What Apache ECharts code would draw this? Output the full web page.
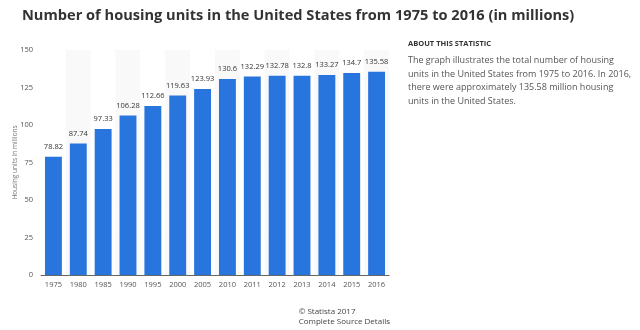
<!DOCTYPE html>
<html><head><meta charset="utf-8">
<script src="https://cdn.jsdelivr.net/npm/echarts@6/dist/echarts.min.js"></script>
<style>html,body{margin:0;padding:0;background:#fff}#c{width:640px;height:330px}</style>
</head><body><div id="c"></div>
<script>
const categories = ['1975','1980','1985','1990','1995','2000','2005','2010','2011','2012','2013','2014','2015','2016'];
const values = [78.82,87.74,97.33,106.28,112.66,119.63,123.93,130.6,132.29,132.78,132.8,133.27,134.7,135.58];
const yTicks = { min: 0, max: 150, interval: 25 };
const titleText = 'Number of housing units in the United States from 1975 to 2016 (in millions)';
const yAxisName = 'Housing units in millions';
const aboutHead = 'ABOUT THIS STATISTIC';
const aboutLines = ['The graph illustrates the total number of housing','units in the United States from 1975 to 2016. In 2016,','there were approximately 135.58 million housing','units in the United States.'];
const footer = ['© Statista 2017','Complete Source Details'];

const chart = echarts.init(document.getElementById('c'), null, {renderer:'canvas'});
const font = '"Open Sans", "Noto Sans", sans-serif';
chart.setOption({
  animation:false,
  backgroundColor:'#fff',
  title:{ text:titleText, left:22, top:8, padding:0, textStyle:{fontFamily:font,fontSize:14.6,fontWeight:'bold',color:'#333'} },
  grid:{ left:41, right:251, top:50, bottom:55, containLabel:false, outerBoundsMode:'none' },
  xAxis:{ type:'category', data:categories,
    axisLine:{lineStyle:{color:'#666',width:1}}, axisTick:{show:false},
    axisLabel:{fontFamily:font,fontSize:7.5,color:'#555',margin:6},
    splitArea:{show:true, areaStyle:{color:['rgba(255,255,255,1)','#f9f9f9']}} },
  yAxis:{ type:'value', min:yTicks.min, max:yTicks.max, interval:yTicks.interval,
    name:yAxisName, nameLocation:'middle', nameGap:22, nameRotate:90, nameMoveOverlap:false,
    nameTextStyle:{fontFamily:font,fontSize:6.5,color:'#777'},
    axisLine:{show:false}, axisTick:{show:false},
    axisLabel:{fontFamily:font,fontSize:7.5,color:'#555',margin:8},
    splitLine:{lineStyle:{color:'#ebebeb',width:1}} },
  series:[{ type:'bar', data:values, barWidth:'68%', z:3,
    itemStyle:{color:'#2876dd'},
    label:{show:true, position:'top', distance:6, fontFamily:font, fontSize:7.5, color:'#333'} }],
  graphic:[
    { type:'text', left:408, top:40, style:{text:aboutHead, fontFamily:font, fontSize:7.5, fontWeight:'bold', fill:'#333'} },
    { type:'text', left:408, top:54, style:{text:aboutLines.join('\n'), fontFamily:font, fontSize:9, lineHeight:13.5, fill:'#555'} },
    { type:'text', right:250, top:307, style:{text:footer.join('\n'), fontFamily:font, fontSize:8, lineHeight:10, fill:'#444', align:'right'} }
  ]
});
</script></body></html>
